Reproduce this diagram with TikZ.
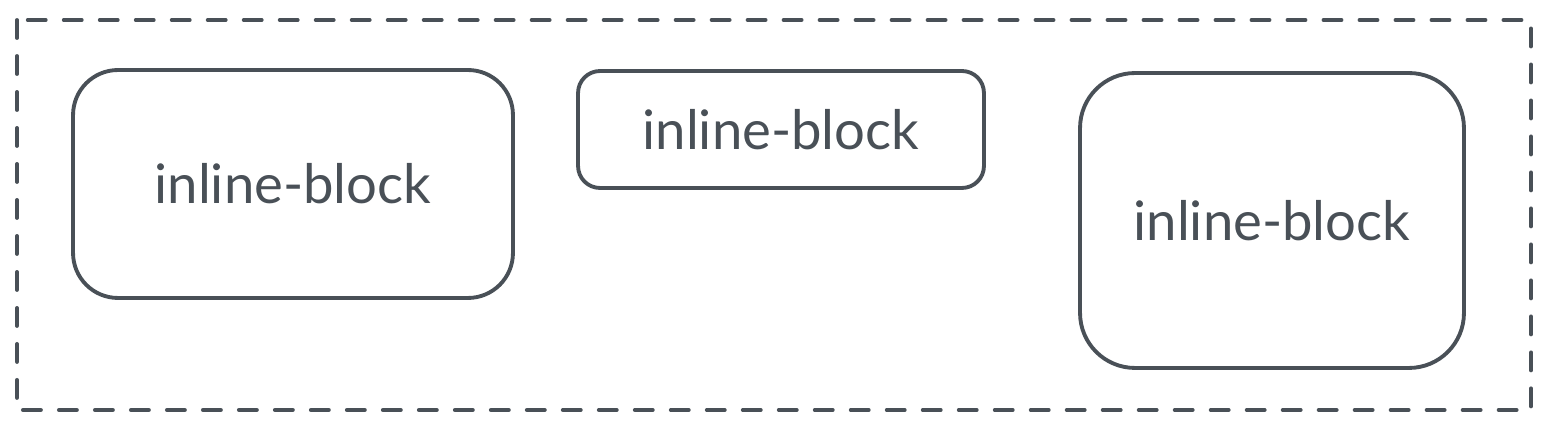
\documentclass[tikz,border=0pt]{standalone}
\usepackage{fontspec}
\setmainfont{Lato}
\definecolor{inkgray}{HTML}{495057}
\tikzset{
  ibox/.style={draw=inkgray, line width=2.2pt, text=inkgray,
    font=\fontsize{31}{36}\selectfont, inner sep=0pt},
  outerframe/.style={draw=inkgray, line width=2.2pt, line cap=round,
    dash pattern=on 0.36cm off 0.36cm}
}

\begin{document}
\begin{tikzpicture}[x=0.02cm, y=-0.02cm]
      \useasboundingbox (0,0) rectangle (1549,431);
      \draw[outerframe] (17,20) rectangle (1531,410);
      \node[ibox, rounded corners=0.9cm, minimum width=8.8cm, minimum height=4.56cm]
        (blockA) at (293,184) {inline-block};
      \node[ibox, rounded corners=0.44cm, minimum width=8.12cm, minimum height=2.34cm]
        (blockB) at (781,129.5) {inline-block};
      \node[ibox, rounded corners=1.1cm, minimum width=7.68cm, minimum height=5.9cm]
        (blockC) at (1272,220.5) {inline-block};
    \end{tikzpicture}
\end{document}
